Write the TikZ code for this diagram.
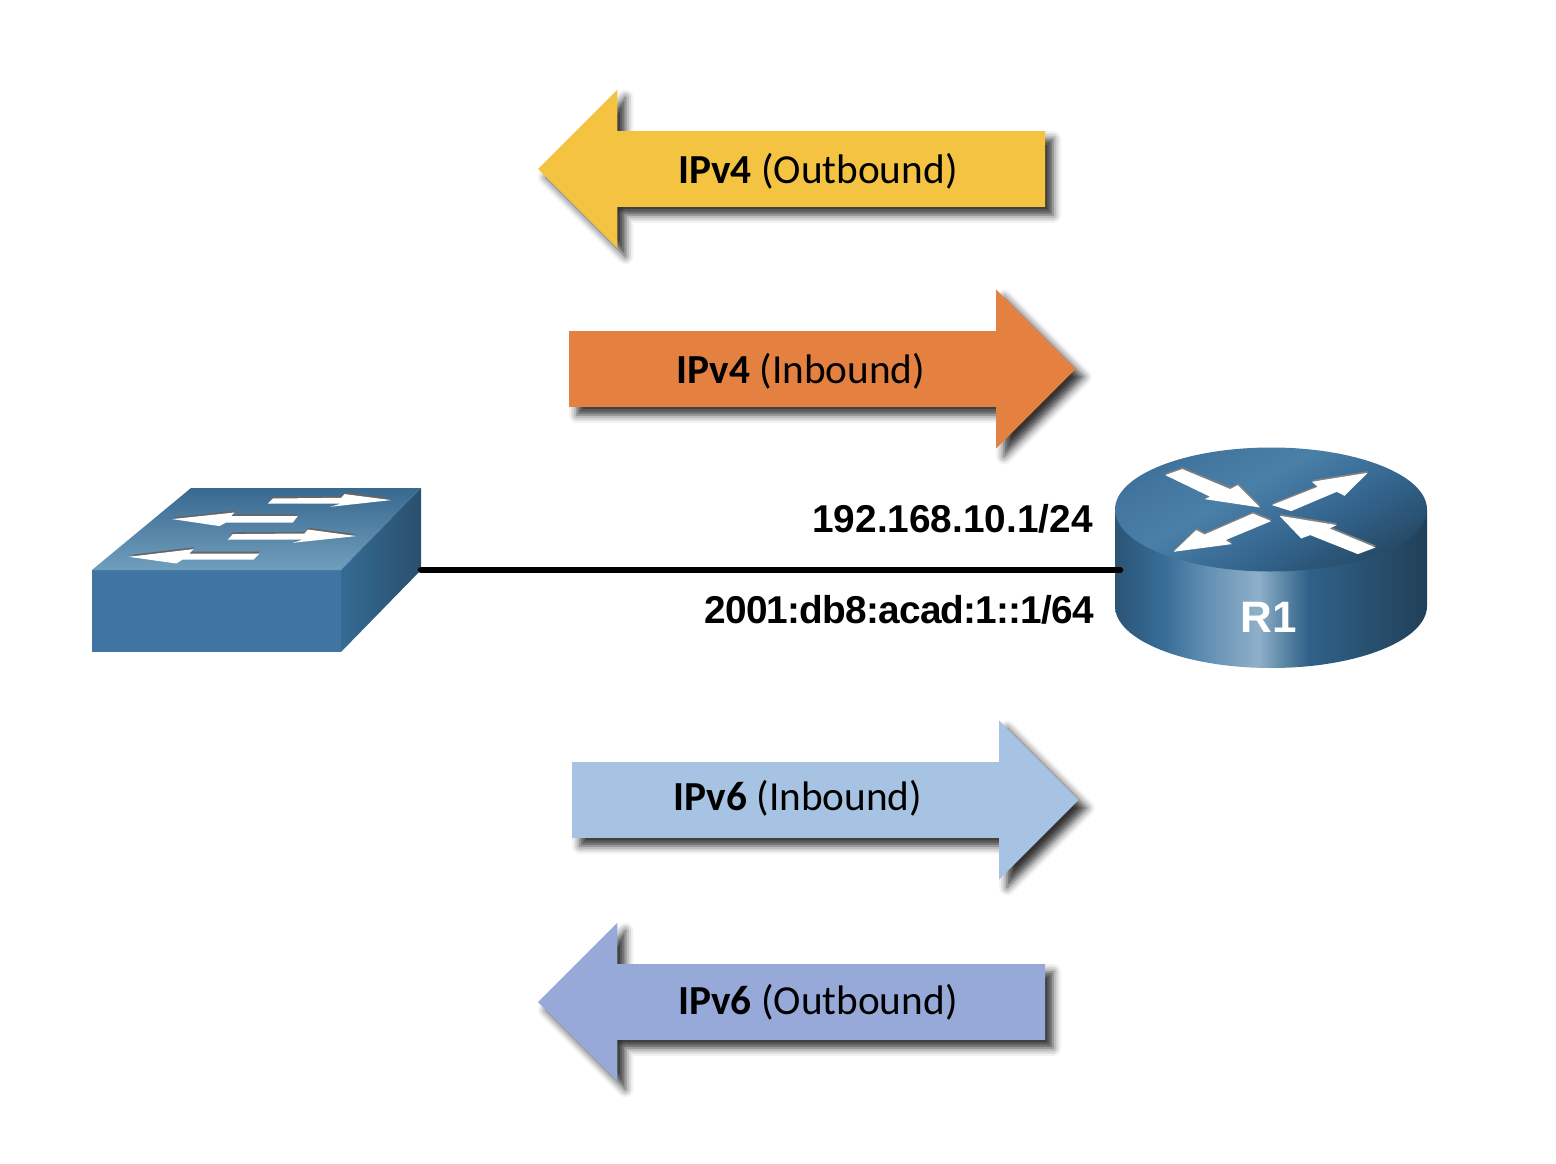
\documentclass[tikz,border=0pt]{standalone}
\usepackage{fontspec}
\setmainfont{Carlito}
\newfontfamily\addrfont{Liberation Sans}
\usetikzlibrary{shapes.arrows, shadows.blur, positioning}

\definecolor{ipvfouro}{HTML}{F4C342}
\definecolor{ipvfouri}{HTML}{E48040}
\definecolor{ipvsixi}{HTML}{A6C3E3}
\definecolor{ipvsixo}{HTML}{97A9D8}
\definecolor{swfront}{HTML}{3F74A3}

\pgfdeclarehorizontalshading{swside}{100bp}{rgb(0bp)=(0.21,0.42,0.58); rgb(25bp)=(0.21,0.42,0.58); rgb(75bp)=(0.16,0.31,0.43); rgb(100bp)=(0.16,0.31,0.43)}
\pgfdeclareverticalshading{swtop}{100bp}{rgb(0bp)=(0.44,0.62,0.74); rgb(25bp)=(0.44,0.62,0.74); rgb(75bp)=(0.22,0.41,0.56); rgb(100bp)=(0.22,0.41,0.56)}
\pgfdeclarehorizontalshading{routerbody}{100bp}{rgb(0bp)=(0.17,0.33,0.46); rgb(25bp)=(0.17,0.33,0.46); rgb(33bp)=(0.22,0.43,0.60); rgb(39bp)=(0.37,0.55,0.69); rgb(48bp)=(0.56,0.69,0.79); rgb(52bp)=(0.36,0.53,0.65); rgb(56bp)=(0.19,0.38,0.54); rgb(65bp)=(0.16,0.32,0.44); rgb(75bp)=(0.13,0.25,0.35); rgb(100bp)=(0.13,0.25,0.35)}
\pgfdeclareverticalshading{routertop}{100bp}{rgb(0bp)=(0.13,0.25,0.35); rgb(25bp)=(0.15,0.29,0.40); rgb(40bp)=(0.20,0.39,0.55); rgb(58bp)=(0.29,0.50,0.66); rgb(72bp)=(0.26,0.46,0.62); rgb(80bp)=(0.22,0.41,0.56); rgb(100bp)=(0.22,0.41,0.56)}

\tikzset{
  flowarrow/.style={single arrow, single arrow head extend=41.5pt, single arrow tip angle=90,
    inner sep=0pt, outer sep=0pt, text height=75.5pt, text depth=0pt, text width=0pt, minimum height=507pt,
    blur shadow={shadow xshift=8pt, shadow yshift=-8pt, shadow blur radius=8pt, shadow opacity=80}},
  flowleft/.style={flowarrow, shape border rotate=180, anchor=tip},
  flowright/.style={flowarrow, minimum height=506.5pt, anchor=tip},
  flowlabel/.style={inner sep=0pt, font=\fontsize{41.3}{48}\selectfont},
  addrlabel/.style={inner sep=0pt, anchor=base east, font=\addrfont\bfseries\fontsize{38.8}{46}\selectfont},
}
\newcommand{\bladearrow}[2]{
  \fill[#1] #2 -- cycle;
  \fill[white, xshift=-0.5pt, yshift=-1.8pt] #2 -- cycle;
}

\begin{document}
\begin{tikzpicture}[x=1pt,y=-1pt]
\useasboundingbox (0,0) rectangle (1556,1164);
% arrows
\node[flowleft,fill=ipvfouro] (A) at (538,169) {};
\node[flowright,fill=ipvfouri] (B) at (1075.5,369) {};
\node[flowright,fill=ipvsixi] (C) at (1078.5,800) {};
\node[flowleft,fill=ipvsixo] (D) at (538,1002) {};
\node[flowlabel] (AL) at (818,171.5) {\textbf{IPv4} (Outbound)};
\node[flowlabel] (BL) at (801,371.5) {\textbf{IPv4} (Inbound)};
\node[flowlabel] (CL) at (798,798.5) {\textbf{IPv6} (Inbound)};
\node[flowlabel] (DL) at (818,1002.5) {\textbf{IPv6} (Outbound)};
% switch
\fill[swfront] (92,570) rectangle (341,652);
\shade[shading=swtop] (92,570) -- (191,488) -- (421,488) -- (341,570) -- cycle;
\shade[shading=swside] (341,570) -- (421,488) -- (421,570) -- (341,652) -- cycle;
\bladearrow{black!60}{(268.3,501.7) -- (273.3,496.7) -- (341.7,496) -- (345,492.3) -- (391.7,498.3) -- (330.7,505) -- (341.7,501.7)}
\bladearrow{black!60}{(172.7,517.3) -- (235,510.7) -- (231.7,514.3) -- (298.3,514.3) -- (293.3,520.7) -- (226.7,520.7) -- (220,524.3)}
\bladearrow{black!60}{(228.3,537.7) -- (233.3,532.3) -- (305,531.7) -- (308.3,527.7) -- (356.7,534.3) -- (293.3,541) -- (303.3,537.7)}
\bladearrow{black!60}{(129.3,555) -- (194,547.3) -- (190,551.7) -- (260,551.7) -- (254,557.7) -- (183.3,557.7) -- (176.7,561.7)}
% router
\shade[shading=routerbody] (1115,509.5) -- (1115,606) arc[start angle=180,end angle=360,x radius=156pt,y radius=62pt] -- (1427,509.5) -- cycle;
\shade[shading=routertop,shading angle=30] (1271,509.5) ellipse[x radius=156pt,y radius=62pt];
\bladearrow{black!50}{(1165.7,473.3) -- (1182.7,467.3) -- (1230.7,487.3) -- (1238.3,483.3) -- (1260.7,505.7) -- (1205,497.3) -- (1210.7,495)}
\bladearrow{black!50}{(1272.3,503.3) -- (1318.3,485) -- (1312.3,480) -- (1368.3,471) -- (1345,494) -- (1337.3,490) -- (1291.7,509.3)}
\bladearrow{black!50}{(1253.3,511.7) -- (1271.7,519.3) -- (1226,538.3) -- (1232.3,542.3) -- (1174,550) -- (1196.7,528.3) -- (1205,532.7)}
\bladearrow{black!50}{(1376,545.7) -- (1358.3,552.3) -- (1310.7,533.3) -- (1301.7,536.7) -- (1280,514) -- (1337.3,523.3) -- (1330,526.7)}
\node[inner sep=0pt,text=white,font=\addrfont\bfseries\fontsize{44}{54}\selectfont] (R1) at (1268.5,617) {R1};
% link
\coordinate (SwPort) at (421,570);
\coordinate (RtPort) at (1120,570);
\draw[line width=6.5pt,line cap=round] (SwPort) -- (RtPort);
\node[addrlabel] (V4) at (1093,532) {192.168.10.1/24};
\node[addrlabel] (V6) at (1094,623) {\addfontfeature{LetterSpace=-2.1}2001:db8:acad:1::1/64};
\end{tikzpicture}
\end{document}
